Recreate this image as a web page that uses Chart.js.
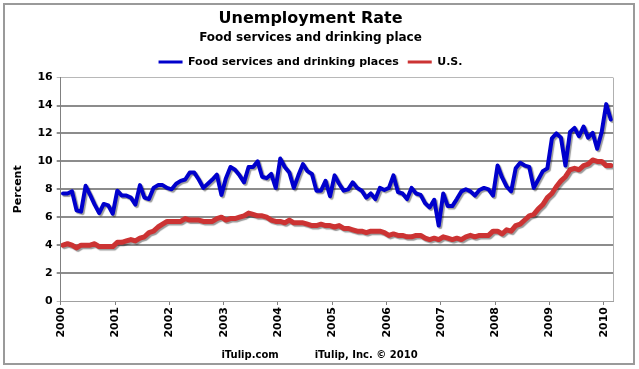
<!DOCTYPE html>
<html>
<head>
<meta charset="utf-8">
<script src="https://cdn.jsdelivr.net/npm/chart.js@4.4.1/dist/chart.umd.min.js"></script>
<style>
  html, body { margin: 0; padding: 0; background: #fff; }
  #wrap { position: relative; width: 639px; height: 369px; }
  #pie { position: absolute; left: 0; top: 349px; width: 639px; text-align: center;
         font: bold 10px "DejaVu Sans", Verdana, sans-serif; color: #000; }
  #pie span + span { margin-left: 36px; }
</style>
</head>
<body>
<div id="wrap">
  <canvas id="chartDesempleo" width="639" height="369"></canvas>
  <div id="pie"><span>iTulip.com</span><span>iTulip, Inc. © 2010</span></div>
</div>
<script>
// datos mensuales, enero 2000 - febrero 2010
const aniosEtiquetas = ['2000', '2001', '2002', '2003', '2004', '2005', '2006', '2007', '2008', '2009', '2010'];

const comidaBebida = [
  7.7, 7.7, 7.85, 6.5, 6.4, 8.25, 7.6, 6.9, 6.3, 6.95, 6.85, 6.25,
  7.9, 7.55, 7.55, 7.4, 6.9, 8.3, 7.4, 7.3, 8.1, 8.3, 8.3, 8.1,
  8.0, 8.4, 8.6, 8.7, 9.2, 9.2, 8.7, 8.1, 8.4, 8.7, 9.05, 7.6,
  8.8, 9.6, 9.4, 9.0, 8.5, 9.6, 9.6, 10.0, 8.9, 8.8, 9.1, 8.1,
  10.2, 9.6, 9.2, 8.1, 9.0, 9.8, 9.3, 9.1, 7.9, 7.9, 8.6, 7.5,
  9.0, 8.4, 7.9, 8.0, 8.5, 8.1, 7.9, 7.4, 7.7, 7.3, 8.1, 7.95,
  8.1, 9.0, 7.8, 7.7, 7.3, 8.1, 7.7, 7.6, 7.0, 6.7, 7.25, 5.4,
  7.7, 6.8, 6.8, 7.3, 7.85, 8.0, 7.85, 7.55, 7.95, 8.1, 8.0, 7.55,
  9.7, 8.85, 8.2, 7.85, 9.5, 9.9, 9.7, 9.6, 8.1, 8.7, 9.3, 9.5,
  11.65, 12.0, 11.7, 9.7, 12.1, 12.4, 11.8, 12.5, 11.7, 12.05, 10.9, 12.1,
  14.1, 13.0
];

const eeuu = [
  4.0, 4.1, 4.0, 3.8, 4.0, 4.0, 4.0, 4.1, 3.9, 3.9, 3.9, 3.9,
  4.2, 4.2, 4.3, 4.4, 4.3, 4.5, 4.6, 4.9, 5.0, 5.3, 5.5, 5.7,
  5.7, 5.7, 5.7, 5.9, 5.8, 5.8, 5.8, 5.7, 5.7, 5.7, 5.9, 6.0,
  5.8, 5.9, 5.9, 6.0, 6.1, 6.3, 6.2, 6.1, 6.1, 6.0, 5.8, 5.7,
  5.7, 5.6, 5.8, 5.6, 5.6, 5.6, 5.5, 5.4, 5.4, 5.5, 5.4, 5.4,
  5.3, 5.4, 5.2, 5.2, 5.1, 5.0, 5.0, 4.9, 5.0, 5.0, 5.0, 4.9,
  4.7, 4.8, 4.7, 4.7, 4.6, 4.6, 4.7, 4.7, 4.5, 4.4, 4.5, 4.4,
  4.6, 4.5, 4.4, 4.5, 4.4, 4.6, 4.7, 4.6, 4.7, 4.7, 4.7, 5.0,
  5.0, 4.8, 5.1, 5.0, 5.4, 5.5, 5.8, 6.1, 6.2, 6.6, 6.9, 7.4,
  7.7, 8.2, 8.6, 8.9, 9.4, 9.5, 9.4, 9.7, 9.8, 10.1, 10.0, 10.0,
  9.7, 9.7
];

const FUENTE = '"DejaVu Sans", Verdana, sans-serif';

// cada mes se dibuja en el centro de su tramo del eje
const aPuntos = serie => serie.map((v, i) => ({ x: i + 0.5, y: v }));

const marcoYSombra = {
  id: 'marcoYSombra',
  beforeDraw(chart) {
    const c = chart.ctx;
    c.save();
    c.fillStyle = '#fff';
    c.fillRect(0, 0, chart.width, chart.height);
    c.strokeStyle = '#9a9a9a';
    c.lineWidth = 2;
    c.strokeRect(4, 4, chart.width - 9, chart.height - 9);
    c.restore();
  },
  beforeDatasetsDraw(chart) {
    const c = chart.ctx;
    c.save();
    c.shadowColor = 'rgba(0,0,0,0.4)';
    c.shadowOffsetX = 1.5;
    c.shadowOffsetY = 1.5;
    c.shadowBlur = 1;
  },
  afterDatasetsDraw(chart) {
    chart.ctx.restore();
  },
  afterDraw(chart) {
    const a = chart.chartArea, c = chart.ctx;
    c.save();
    c.strokeStyle = '#b0b0b0';
    c.lineWidth = 1;
    c.beginPath();
    c.moveTo(a.right + 0.5, a.top);
    c.lineTo(a.right + 0.5, a.bottom);
    c.stroke();
    c.restore();
  }
};

const etiquetasLeyenda = chart =>
  Chart.defaults.plugins.legend.labels.generateLabels(chart).map(l => ({ ...l, lineWidth: 0 }));

const ctx = document.getElementById('chartDesempleo').getContext('2d');
const chart = new Chart(ctx, {
  type: 'line',
  data: {
    datasets: [{
      label: 'Food services and drinking places',
      data: aPuntos(comidaBebida),
      borderColor: '#0000cc',
      backgroundColor: '#0000cc',
      borderWidth: 4,
      pointRadius: 0,
      tension: 0,
      borderJoinStyle: 'round',
      borderCapStyle: 'round'
    }, {
      label: 'U.S.',
      data: aPuntos(eeuu),
      borderColor: '#cc3333',
      backgroundColor: '#cc3333',
      borderWidth: 5,
      pointRadius: 0,
      tension: 0,
      borderJoinStyle: 'round',
      borderCapStyle: 'round'
    }]
  },
  options: {
    responsive: false,
    animation: false,
    layout: { padding: { top: 6, left: 8, right: 26, bottom: 18 } },
    plugins: {
      title: {
        display: true,
        text: 'Unemployment Rate',
        color: '#000',
        font: { family: FUENTE, size: 16, weight: 'bold', lineHeight: 1.2 },
        padding: { top: 3, bottom: 0 }
      },
      subtitle: {
        display: true,
        text: 'Food services and drinking place',
        color: '#000',
        font: { family: FUENTE, size: 12, weight: 'bold', lineHeight: 1.2 },
        padding: { top: 2, bottom: 3 }
      },
      legend: {
        display: true,
        labels: {
          color: '#000',
          font: { family: FUENTE, size: 11, weight: 'bold' },
          boxWidth: 24,
          boxHeight: 3,
          padding: 9,
          generateLabels: etiquetasLeyenda
        }
      },
      tooltip: { enabled: false }
    },
    scales: {
      x: {
        type: 'linear',
        min: 0,
        max: 122,
        afterFit: s => { s.height = 50; },
        ticks: {
          stepSize: 12,
          includeBounds: false,
          autoSkip: false,
          minRotation: 90,
          maxRotation: 90,
          padding: 2,
          color: '#000',
          font: { family: FUENTE, size: 11, weight: 'bold' },
          callback: v => aniosEtiquetas[v / 12]
        },
        grid: { drawOnChartArea: false, drawTicks: true, tickLength: 4, color: '#808080', lineWidth: 1 },
        border: { display: true, color: '#a0a0a0', width: 1 }
      },
      y: {
        min: 0,
        max: 16,
        afterFit: s => { s.width = 52.7; },
        ticks: {
          stepSize: 2,
          padding: 4,
          color: '#000',
          font: { family: FUENTE, size: 11, weight: 'bold' }
        },
        title: {
          display: true,
          text: 'Percent',
          color: '#000',
          font: { family: FUENTE, size: 11, weight: 'bold' },
          padding: { top: 4, bottom: 0 }
        },
        grid: {
          color: c => (c.tick && (c.tick.value === 0 || c.tick.value === 16)) ? '#b8b8b8' : '#8c8c8c',
          lineWidth: c => (c.tick && (c.tick.value === 0 || c.tick.value === 16)) ? 1 : 2,
          tickLength: 4
        },
        border: { display: true, color: '#808080', width: 1 }
      }
    }
  },
  plugins: [marcoYSombra]
});
</script>
</body>
</html>
